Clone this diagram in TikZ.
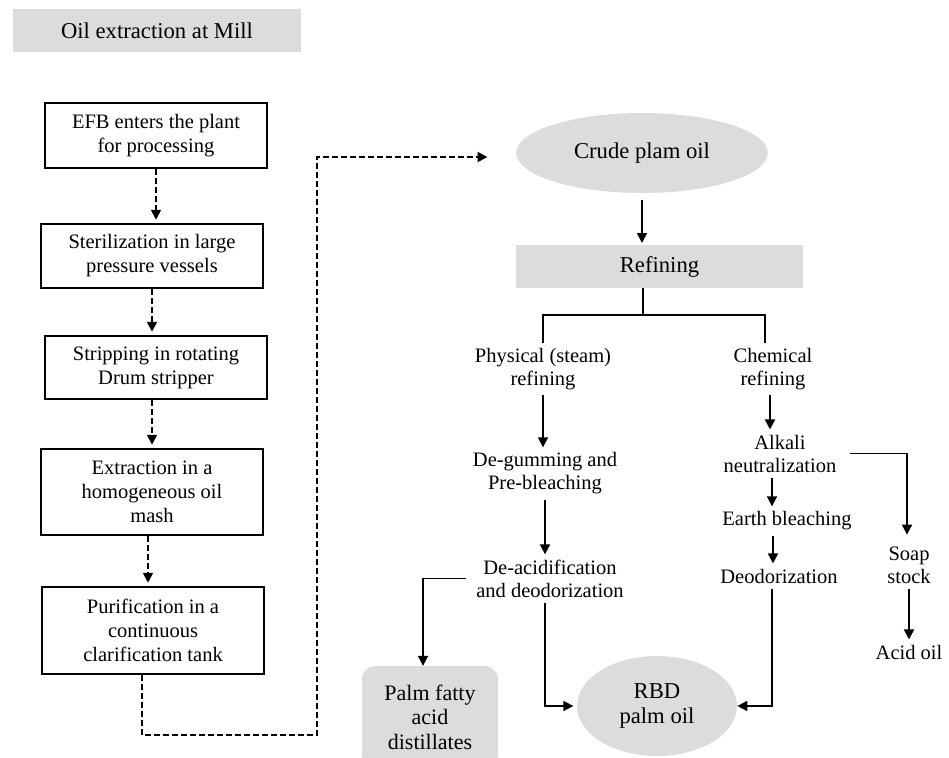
\documentclass[tikz,border=0pt]{standalone}
\usepackage{fontspec}
\setmainfont{Liberation Serif}
\usepackage{tikz}
\usetikzlibrary{arrows.meta,shapes.geometric}
\definecolor{millGrey}{HTML}{DCDCDC}

\begin{document}
\begin{tikzpicture}[x=0.6pt, y=-0.6pt,
  millbox/.style={draw, line width=1.1pt, minimum width=133.2pt, align=center, inner sep=0pt, font=\fontsize{12.3}{14.4}\selectfont},
  greylabel/.style={fill=millGrey, align=center, inner sep=0pt, font=\fontsize{13.6}{14.6}\selectfont},
  steptext/.style={align=center, inner sep=3pt, font=\fontsize{12.3}{13.8}\selectfont},
  millflow/.style={line width=1.1pt, dash pattern=on 3.6pt off 1.8pt, shorten >=2pt, -{Triangle[length=6pt,width=6pt]}},
  refflow/.style={line width=1pt, -{Triangle[length=6pt,width=6pt]}},
  refline/.style={line width=1pt}]
  \useasboundingbox (0,0) rectangle (949,757);

  \node[greylabel, minimum width=172.8pt, minimum height=25.8pt] (mill) at (157,30.5) {Oil extraction at Mill};
  \node[millbox, minimum height=39pt] (efb) at (156,135.5) {EFB enters the plant\\for processing};
  \node[millbox, minimum height=38.4pt] (steril) at (152,256) {Sterilization in large\\pressure vessels};
  \node[millbox, minimum height=37.8pt] (strip) at (156,367.5) {Stripping in rotating\\Drum stripper};
  \node[millbox, minimum height=51.6pt] (extract) at (152,492) {Extraction in a\\homogeneous oil\\mash};
  \node[millbox, minimum height=52.2pt] (purify) at (153,630.5) {Purification in a\\continuous\\clarification tank};

  \node[greylabel, ellipse, minimum width=151pt, minimum height=48pt] (crude) at (642,153) {Crude plam oil};
  \node[greylabel, minimum width=172.2pt, minimum height=25.8pt] (refining) at (659.5,266.5) {Refining};

  \node[steptext] (physical) at (543,369) {Physical (steam)\\refining};
  \node[steptext] (chemical) at (773,369) {Chemical\\refining};
  \node[steptext] (degum) at (545,473.5) {De-gumming and\\Pre-bleaching};
  \node[steptext] (deacid) at (550,578.5) {De-acidification\\and deodorization};
  \node[steptext] (alkali) at (780,453.5) {Alkali\\neutralization};
  \node[steptext] (earth) at (787,521) {Earth bleaching};
  \node[steptext] (deodor) at (779,576) {Deodorization};
  \node[steptext] (soap) at (909,565) {Soap\\stock};
  \node[steptext] (acidoil) at (909,652) {Acid oil};

  \node[greylabel, rounded corners=8pt, minimum width=81.6pt, minimum height=61pt, font=\fontsize{13.2}{14.7}\selectfont] (pfad) at (430,717) {Palm fatty\\acid\\distillates};
  \node[greylabel, ellipse, minimum width=96pt, minimum height=60pt] (rbd) at (657,706) {RBD\\palm oil};

  \draw[millflow] (efb.south) -- (efb.south |- steril.north);
  \draw[millflow] (steril.south) -- (steril.south |- strip.north);
  \draw[millflow] ([xshift=-2.4pt]strip.south) -- ([xshift=-2.4pt]strip.south |- extract.north);
  \draw[millflow] ([xshift=-2.4pt]extract.south) -- ([xshift=-2.4pt]extract.south |- purify.north);
  \coordinate (millturn) at (317,735);
  \draw[millflow, shorten >=17pt] ([xshift=-6.6pt]purify.south) |- (millturn) |- ([yshift=-2.4pt]crude.west);

  \draw[refflow, shorten <=4pt, shorten >=1pt] (crude.south) -- (crude.south |- refining.north);
  \coordinate (split) at (643,315);
  \draw[refline] (split |- refining.south) -- (split);
  \draw[refline] (physical.north) |- (split) -| ([xshift=-4.8pt]chemical.north);

  \draw[refflow] (physical.south) -- (physical.south |- degum.north);
  \draw[refflow] (degum.south) -- (degum.south |- deacid.north);
  \draw[refflow] ([xshift=-3pt]deacid.west) -| ([xshift=-4.2pt]pfad.north);
  \draw[refflow, shorten >=2pt] ([xshift=-3pt]deacid.south) |- (rbd.west);

  \draw[refflow] ([xshift=-1.8pt]chemical.south) -- ([xshift=-1.8pt]chemical.south |- alkali.north);
  \draw[refflow] ([xshift=-4.8pt]alkali.south) -- ([xshift=-4.8pt]alkali.south |- earth.north);
  \draw[refflow] ([xshift=-8.4pt]earth.south) -- ([xshift=-8.4pt]earth.south |- deodor.north);
  \draw[refflow] ([xshift=-4.2pt]deodor.south) |- (rbd.east);
  \draw[refflow, shorten >=4pt] ([xshift=4.8pt]alkali.east) -| ([xshift=-1.2pt]soap.north);
  \draw[refflow] (soap.south) -- (soap.south |- acidoil.north);
\end{tikzpicture}
\end{document}
